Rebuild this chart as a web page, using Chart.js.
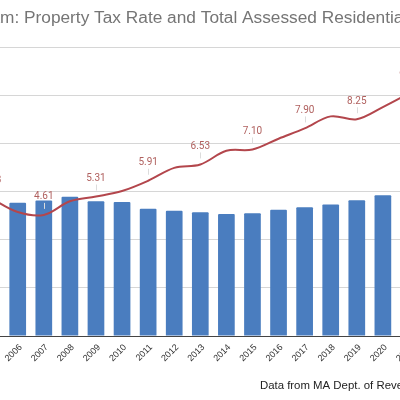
<!DOCTYPE html>
<html>
<head>
<meta charset="utf-8">
<script src="https://cdn.jsdelivr.net/npm/chart.js@4.4.1/dist/chart.umd.min.js"></script>
<style>
  html, body { margin: 0; padding: 0; background: #fff; }
  #wrap { position: relative; width: 400px; height: 400px; overflow: hidden; background: #fff; }
  #inner { position: absolute; left: -60px; top: 0; width: 520px; height: 400px; }
</style>
</head>
<body>
<div id="wrap"><div id="inner"><canvas id="taxChart"></canvas></div></div>
<script>
// chart data (the image is a crop of a wider chart)
const years = ['2005', '2006', '2007', '2008', '2009', '2010', '2011', '2012', '2013',
  '2014', '2015', '2016', '2017', '2018', '2019', '2020', '2021'];

// tax rate ($ per $1000), red line
const taxRate = [5.23, 4.72, 4.61, 5.13, 5.31, 5.52, 5.91, 6.40, 6.53,
  7.05, 7.10, 7.51, 7.90, 8.36, 8.25, 8.71, 9.23];

// total assessed residential value, blue bars (first and last are cropped out)
const assessedValue = [null, 5.53, 5.63, 5.78, 5.60, 5.56, 5.28, 5.20, 5.14,
  5.07, 5.10, 5.24, 5.35, 5.46, 5.64, 5.85, null];

// years that carry a rate label
const labelledYears = ['2005', '2007', '2009', '2011', '2013', '2015', '2017', '2019', '2021'];

const titleText = 'Eastham: Property Tax Rate and Total Assessed Residential Value';
const SANS = '"Liberation Sans", Arial, sans-serif';

// title drawn by hand so the cropped part lines up with the reference
const titleDraw = {
  id: 'titleDraw',
  afterDraw(chart) {
    const ctx = chart.ctx;
    ctx.save();
    ctx.font = '17.3px ' + SANS;
    ctx.fillStyle = '#757575';
    ctx.textAlign = 'left';
    ctx.textBaseline = 'alphabetic';
    const x0 = 60 - ctx.measureText('Eastha').width;
    ctx.fillText(titleText, x0, 22.7);
    ctx.restore();
  }
};

// draws the rate labels above every other point, with a faint leader line
const rateLabels = {
  id: 'rateLabels',
  afterDatasetsDraw(chart) {
    const ctx = chart.ctx;
    const meta = chart.getDatasetMeta(0);
    ctx.save();
    meta.data.forEach((pt, i) => {
      if (!labelledYears.includes(years[i])) return;
      ctx.strokeStyle = '#dcdcdc';
      ctx.lineWidth = 1;
      ctx.beginPath();
      ctx.moveTo(Math.round(pt.x) + 0.5, pt.y - 12);
      ctx.lineTo(Math.round(pt.x) + 0.5, pt.y - 6);
      ctx.stroke();
      ctx.fillStyle = '#b0605e';
      ctx.font = '10px Roboto, ' + SANS;
      ctx.textAlign = 'center';
      ctx.textBaseline = 'middle';
      ctx.fillText(taxRate[i].toFixed(2), pt.x, pt.y - 18);
    });
    ctx.restore();
  }
};

const ctx = document.getElementById('taxChart').getContext('2d');

new Chart(ctx, {
  type: 'bar',
  data: {
    labels: years,
    datasets: [
      {
        type: 'line',
        label: 'Tax rate',
        data: taxRate,
        yAxisID: 'y1',
        borderColor: '#b3464c',
        borderWidth: 2,
        pointRadius: 0,
        tension: 0.35,
        order: 0
      },
      {
        label: 'Total assessed residential value',
        data: assessedValue,
        yAxisID: 'y',
        backgroundColor: '#4a7dbf',
        categoryPercentage: 1,
        barPercentage: 0.64,
        borderRadius: 1,
        order: 1
      }
    ]
  },
  options: {
    responsive: true,
    maintainAspectRatio: false,
    animation: false,
    layout: { padding: { left: 38.6, right: 38, top: 47, bottom: 7.5 } },
    plugins: {
      legend: { display: false },
      tooltip: { enabled: false },
      title: { display: false }
    },
    scales: {
      x: {
        grid: { display: false, drawTicks: false },
        border: { display: true, color: '#444', width: 1 },
        ticks: {
          autoSkip: false,
          maxRotation: 45,
          minRotation: 45,
          padding: 6,
          labelOffset: 3,
          color: '#333',
          font: { family: SANS, size: 9 }
        },
        title: {
          display: true,
          text: 'Data from MA Dept. of Revenue',
          align: 'end',
          color: '#222',
          font: { family: SANS, size: 11.4 },
          padding: { top: 9, bottom: 0 }
        }
      },
      y: {
        position: 'left',
        min: 0,
        max: 12,
        ticks: { display: false, stepSize: 2 },
        grid: { color: '#d6d6d6', drawTicks: false },
        border: { display: false }
      },
      y1: {
        position: 'right',
        display: false,
        min: 0,
        max: 11
      }
    }
  },
  plugins: [rateLabels, titleDraw]
});
</script>
</body>
</html>
